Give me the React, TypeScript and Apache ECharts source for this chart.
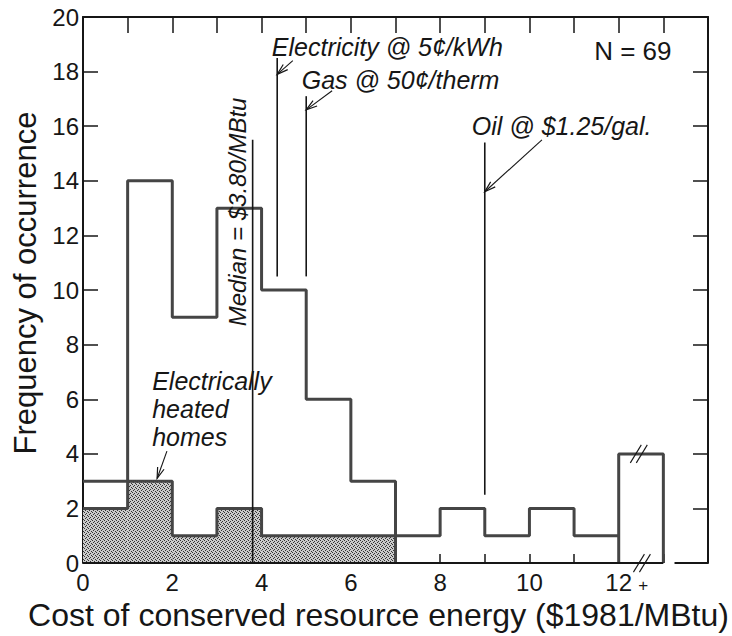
import React, { useEffect, useRef } from 'react';
import * as echarts from 'echarts';

// Histogram bins: lower edge of each $1/MBtu bin (last bin is the open "12+" bin)
const binStarts = [0, 1, 2, 3, 4, 5, 6, 7, 8, 9, 10, 11, 12];
const binWidth = 1;
// Number of homes in each bin
const allHomes = [3, 14, 9, 13, 10, 6, 3, 1, 2, 1, 2, 1, 4];
// Electrically heated homes in each bin (shaded)
const electricHomes = [2, 3, 1, 2, 1, 1, 1, 0, 0, 0, 0, 0, 0];
// Axis ticks
const xTickLabels = ['0', '2', '4', '6', '8', '10', '12'];
const yTickLabels = ['0', '2', '4', '6', '8', '10', '12', '14', '16', '18', '20'];
// Reference prices ($1981/MBtu)
const sampleSize = 69;
const medianCost = 3.8;
const electricityCost = 4.35;
const gasCost = 5.0;
const oilCost = 9.0;

const FONT = '"Liberation Sans", Arial, Helvetica, sans-serif';
const INK = '#161616';
const OUTLINE = '#454545';

const openBinIndex = binStarts.length - 1;

// Step outline for the closed bins of a histogram
function stepOutline(values: number[], upTo: number) {
  const pts: number[][] = [];
  for (let i = 0; i < upTo; i++) {
    const x0 = binStarts[i];
    pts.push([x0, values[i]], [x0 + binWidth, values[i]]);
  }
  return pts;
}

const shadeTile =
  "<svg xmlns='http://www.w3.org/2000/svg' width='4' height='4'>" +
  "<rect width='4' height='4' fill='#cacaca'/>" +
  "<rect x='0' y='0' width='1' height='1' fill='#333'/>" +
  "<rect x='2' y='1' width='1' height='1' fill='#333'/>" +
  "<rect x='1' y='2' width='1' height='1' fill='#333'/>" +
  "<rect x='3' y='3' width='1' height='1' fill='#333'/>" +
  '</svg>';
const shadeFill = {
  image: 'data:image/svg+xml;charset=utf-8,' + encodeURIComponent(shadeTile),
  repeat: 'repeat',
  imageWidth: 4,
  imageHeight: 4,
};

export default function App() {
  const ref = useRef<HTMLDivElement>(null);

  useEffect(() => {
    if (!ref.current) return;
    const chart = echarts.init(ref.current, null, { renderer: 'svg' });

    const allOutline = stepOutline(allHomes, openBinIndex);
    const openX0 = binStarts[openBinIndex];
    const openOutline = [
      [openX0, 0],
      [openX0, allHomes[openBinIndex]],
      [openX0 + binWidth, allHomes[openBinIndex]],
      [openX0 + binWidth, 0],
    ];
    const lastElectric = electricHomes.reduce((acc, v, i) => (v > 0 ? i : acc), 0);
    const electricOutline = stepOutline(electricHomes, lastElectric + 1);
    electricOutline.push([binStarts[lastElectric] + binWidth, 0]);

    const shadedBins = binStarts
      .map((x, i) => [x, x + binWidth, electricHomes[i]])
      .filter((d) => d[2] > 0);

    const option: any = {
      animation: false,
      backgroundColor: '#ffffff',
      grid: { left: 83, top: 17, right: 24, bottom: 67, containLabel: false },
      xAxis: [
        {
          type: 'value',
          position: 'bottom',
          min: 0,
          max: 14,
          interval: 1,
          axisLine: { show: false },
          axisTick: { show: true, inside: true, length: 9, lineStyle: { color: INK, width: 1.5 } },
          splitLine: { show: false },
          axisLabel: {
            margin: 7,
            fontSize: 24,
            fontFamily: FONT,
            color: INK,
            formatter: (v: number) => (xTickLabels.includes(String(v)) ? String(v) : ''),
          },
          name: 'Cost of conserved resource energy ($1981/MBtu)',
          nameLocation: 'middle',
          nameGap: 30,
          nameTextStyle: { fontSize: 32, fontFamily: FONT, color: INK, padding: [0, 34, 0, 0] },
        },
        {
          type: 'value',
          position: 'top',
          min: 0,
          max: 14,
          interval: 1,
          axisLine: { show: true, onZero: false, lineStyle: { color: INK, width: 2 } },
          axisTick: { show: true, inside: true, length: 16, lineStyle: { color: INK, width: 1.5 } },
          axisLabel: { show: false },
          splitLine: { show: false },
        },
      ],
      yAxis: [
        {
          type: 'value',
          position: 'left',
          min: 0,
          max: 20,
          interval: 2,
          axisLine: { show: true, onZero: false, lineStyle: { color: INK, width: 2 } },
          axisTick: { show: true, inside: true, length: 15, lineStyle: { color: INK, width: 1.5 } },
          splitLine: { show: false },
          axisLabel: {
            margin: 4,
            fontSize: 24,
            fontFamily: FONT,
            color: INK,
            formatter: (v: number) => (yTickLabels.includes(String(v)) ? String(v) : ''),
          },
          name: 'Frequency of occurrence',
          nameLocation: 'middle',
          nameGap: 42,
          nameTextStyle: { fontSize: 31, fontFamily: FONT, color: INK, padding: [0, 0, 0, 14] },
        },
        {
          type: 'value',
          position: 'right',
          min: 0,
          max: 20,
          interval: 2,
          axisLine: { show: true, onZero: false, lineStyle: { color: INK, width: 2 } },
          axisTick: { show: true, inside: true, length: 15, lineStyle: { color: INK, width: 1.5 } },
          axisLabel: { show: false },
          splitLine: { show: false },
        },
      ],
      series: [
        {
          // shaded bins: electrically heated homes
          type: 'custom',
          z: 1,
          clip: false,
          encode: { x: [0, 1], y: 2 },
          data: shadedBins,
          renderItem: (_p: any, api: any) => {
            const top = api.coord([api.value(0), api.value(2)]);
            const base = api.coord([api.value(1), 0]);
            return {
              type: 'rect',
              shape: { x: top[0], y: top[1], width: base[0] - top[0], height: base[1] - top[1] },
              style: { fill: shadeFill },
            };
          },
        },
        {
          type: 'line',
          z: 2,
          data: electricOutline,
          showSymbol: false,
          symbol: 'none',
          lineStyle: { color: OUTLINE, width: 3 },
        },
        {
          type: 'line',
          z: 3,
          data: allOutline,
          showSymbol: false,
          symbol: 'none',
          lineStyle: { color: OUTLINE, width: 3 },
        },
        {
          type: 'line',
          z: 3,
          data: openOutline,
          showSymbol: false,
          symbol: 'none',
          lineStyle: { color: OUTLINE, width: 3 },
        },
        {
          // reference lines, arrows, notes and the broken bottom axis
          type: 'custom',
          z: 5,
          clip: false,
          data: [[0, 0]],
          renderItem: (_p: any, api: any) => {
            const c = (x: number, y: number) => api.coord([x, y]);
            const children: any[] = [];
            const seg = (a: number[], b: number[], w = 1.6, color = INK) =>
              children.push({
                type: 'line',
                shape: { x1: a[0], y1: a[1], x2: b[0], y2: b[1] },
                style: { stroke: color, lineWidth: w },
              });
            const arrow = (tail: number[], head: number[]) => {
              seg(tail, head, 1.1);
              const dx = head[0] - tail[0];
              const dy = head[1] - tail[1];
              const L = Math.hypot(dx, dy);
              const ux = dx / L;
              const uy = dy / L;
              const len = 11;
              const hw = 3.4;
              const bx = head[0] - ux * len;
              const by = head[1] - uy * len;
              children.push({
                type: 'polyline',
                shape: { points: [[bx - uy * hw, by + ux * hw], head, [bx + uy * hw, by - ux * hw]] },
                style: { stroke: INK, lineWidth: 1.2, fill: null },
              });
            };
            const note = (s: string, p: number[], opts: any = {}) =>
              children.push({
                type: 'text',
                x: p[0],
                y: p[1],
                rotation: opts.rotation || 0,
                style: {
                  text: s,
                  fill: INK,
                  font: opts.font || `italic 25px ${FONT}`,
                  align: opts.align || 'left',
                  textAlign: opts.align || 'left',
                  verticalAlign: 'middle',
                  textVerticalAlign: 'middle',
                  lineHeight: opts.lineHeight || 28,
                },
              });

            // bottom axis, broken after the open bin
            const openEnd = binStarts[openBinIndex] + binWidth;
            seg(c(0, 0), c(openEnd, 0), 2);
            seg(c(openEnd + 0.25, 0), c(14, 0), 2);

            // break marks on the open bin
            const breakMark = (p: number[]) => {
              for (const off of [-3, 3]) {
                seg([p[0] + off - 5.5, p[1] + 9], [p[0] + off + 5.5, p[1] - 9], 1.1);
              }
            };
            breakMark(c(12.52, 0));
            breakMark(c(12.45, allHomes[openBinIndex]));
            const plus = c(12.55, 0);
            note('+', [plus[0], plus[1] + 22], { font: `17px ${FONT}`, align: 'center' });

            // price reference lines
            seg(c(medianCost, 0), c(medianCost, 15.5));
            seg(c(electricityCost, 10.5), c(electricityCost, 18.5));
            seg(c(gasCost, 10.5), c(gasCost, 17.1));
            seg(c(oilCost, 2.5), c(oilCost, 15.4));

            arrow(c(4.7, 18.4), c(electricityCost, 17.9));
            arrow(c(5.58, 17.3), c(gasCost, 16.6));
            arrow(c(10.28, 15.5), c(oilCost, 13.6));
            arrow(c(1.88, 4.1), c(1.66, 3.1));

            note('Electricity @ 5¢/kWh', c(4.23, 18.9));
            note('Gas @ 50¢/therm', c(4.9, 17.7));
            note('Oil @ $1.25/gal.', c(8.71, 16.0));
            note(`N = ${sampleSize}`, c(11.45, 18.75), { font: `26px ${FONT}` });
            note('Electrically\nheated\nhomes', c(1.55, 5.65), { lineHeight: 28 });
            note('Median = $3.80/MBtu', c(3.47, 12.86), {
              rotation: Math.PI / 2,
              align: 'center',
              font: `italic 24px ${FONT}`,
            });

            return { type: 'group', children };
          },
        },
      ],
    };

    chart.setOption(option);
    return () => chart.dispose();
  }, []);

  return (
    <div
      ref={ref}
      style={{ position: 'fixed', left: 0, top: 0, width: 732, height: 636, background: '#fff' }}
    />
  );
}
